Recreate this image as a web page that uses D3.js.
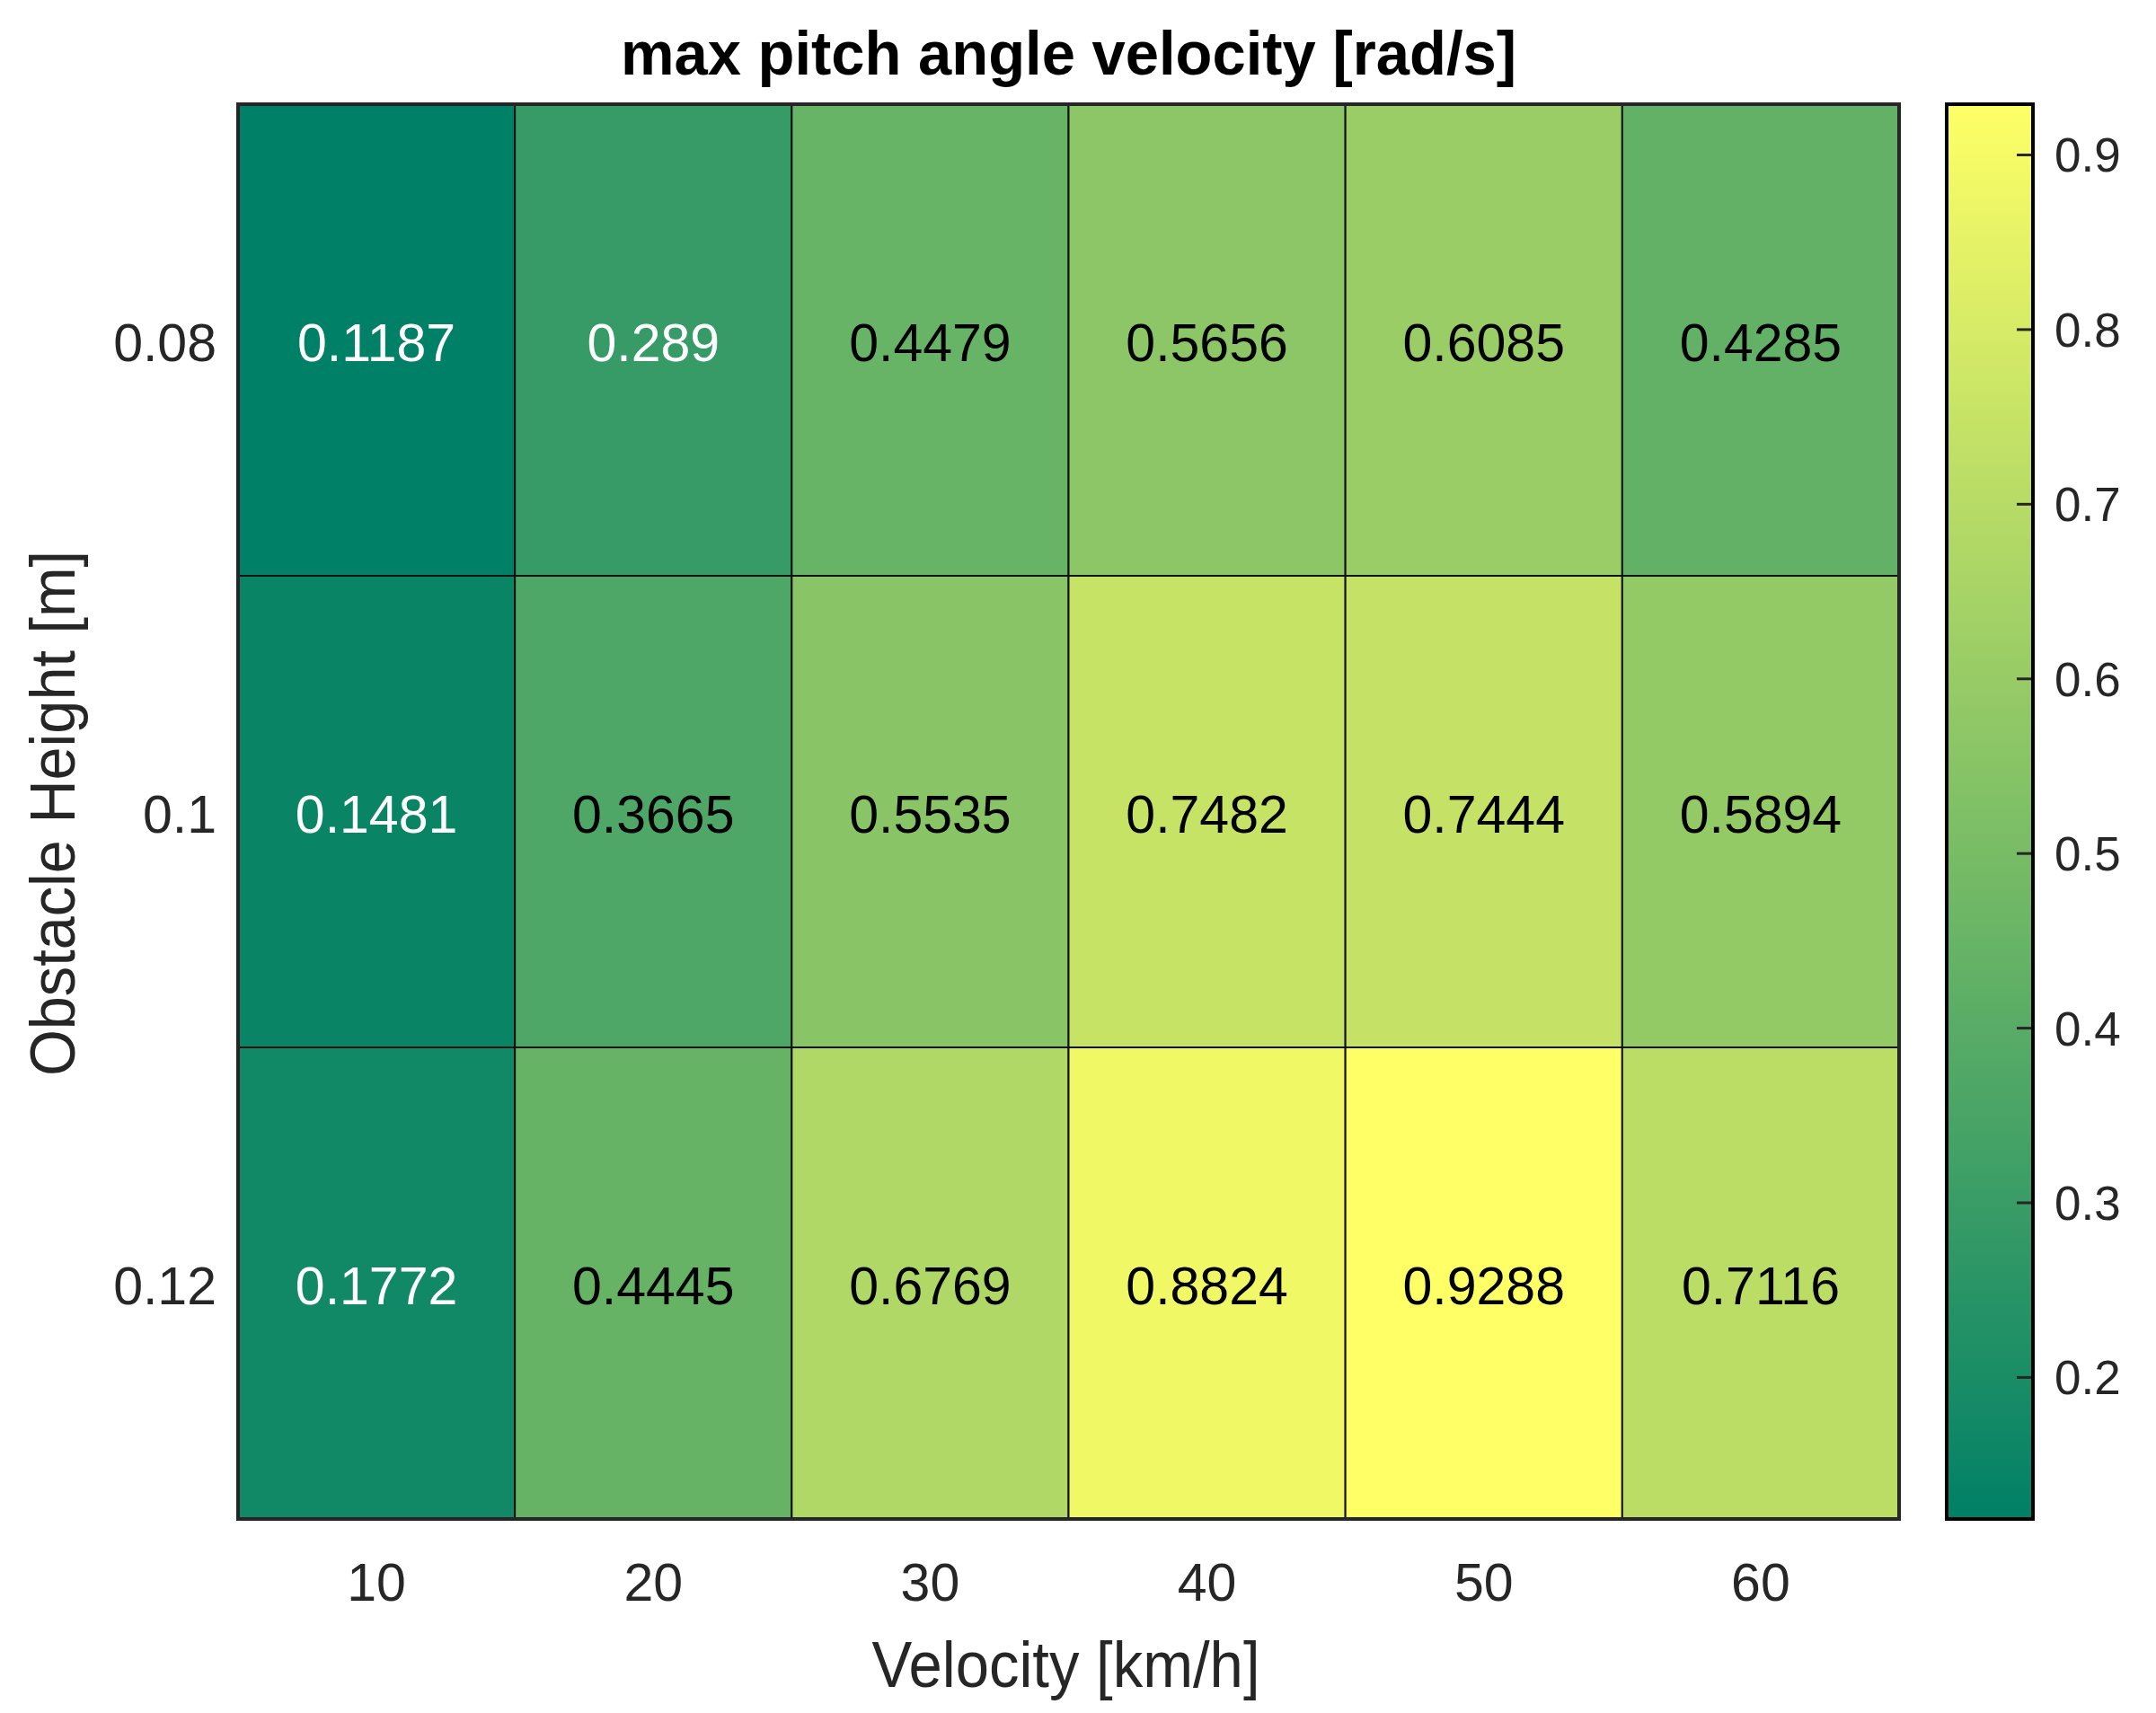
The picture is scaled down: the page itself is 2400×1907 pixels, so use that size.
<!DOCTYPE html>
<html>
<head>
<meta charset="utf-8">
<script src="https://cdn.jsdelivr.net/npm/d3@7"></script>
<style>
  html, body { margin: 0; padding: 0; background: #fff; }
  svg { display: block; }
  text { font-family: "Liberation Sans", Arial, Helvetica, sans-serif; }
</style>
</head>
<body>
<script>
// ---- data ----
const velocities = [10, 20, 30, 40, 50, 60];
const heights = [0.08, 0.1, 0.12];
const row008 = [0.1187, 0.289, 0.4479, 0.5656, 0.6085, 0.4285];
const row010 = [0.1481, 0.3665, 0.5535, 0.7482, 0.7444, 0.5894];
const row012 = [0.1772, 0.4445, 0.6769, 0.8824, 0.9288, 0.7116];
const colorbarTicks = [0.2, 0.3, 0.4, 0.5, 0.6, 0.7, 0.8, 0.9];
const titleText = "max pitch angle velocity [rad/s]";
const xLabelText = "Velocity [km/h]";
const yLabelText = "Obstacle Height [m]";

const rows = [row008, row010, row012];
const cells = [];
heights.forEach((h, i) => velocities.forEach((v, j) => cells.push({h, v, value: rows[i][j]})));

// ---- layout ----
const W = 2400, H = 1907;
const plot = {left: 265, right: 2114, top: 116, bottom: 1691};
const cb = {left: 2167, right: 2263};

const svg = d3.select("body").append("svg").attr("width", W).attr("height", H);
svg.append("rect").attr("width", W).attr("height", H).attr("fill", "#fff");

const x = d3.scaleBand().domain(velocities).range([plot.left, plot.right]).padding(0);
const y = d3.scaleBand().domain(heights).range([plot.top, plot.bottom]).padding(0);

const allVals = cells.map(d => d.value);
const vmin = d3.min(allVals), vmax = d3.max(allVals);
const color = d3.scaleLinear().domain([vmin, vmax])
  .range(["rgb(0,128,102)", "rgb(255,255,102)"]).interpolate(d3.interpolateRgb);

// cells
svg.append("g").selectAll("rect").data(cells).join("rect")
  .attr("x", d => x(d.v)).attr("y", d => y(d.h))
  .attr("width", x.bandwidth()).attr("height", y.bandwidth())
  .attr("fill", d => color(d.value))
  .attr("stroke", "#111").attr("stroke-width", 2);

// cell labels
function textColor(v) {
  const c = d3.rgb(color(v));
  const lum = (0.299 * c.r + 0.587 * c.g + 0.114 * c.b) / 255;
  return lum > 0.5 ? "#000" : "#fff";
}
const cellFs = 59;
svg.append("g").selectAll("text").data(cells).join("text")
  .attr("x", d => x(d.v) + x.bandwidth() / 2)
  .attr("y", d => y(d.h) + y.bandwidth() / 2 + 0.358 * cellFs + 2)
  .attr("text-anchor", "middle")
  .attr("font-size", cellFs)
  .attr("fill", d => textColor(d.value))
  .text(d => String(d.value));

// outer border
svg.append("rect")
  .attr("x", plot.left).attr("y", plot.top)
  .attr("width", plot.right - plot.left).attr("height", plot.bottom - plot.top)
  .attr("fill", "none").attr("stroke", "#262626").attr("stroke-width", 4);

// x axis tick labels
const tickFs = 59;
const xAxis = d3.axisBottom(x).tickSize(0).tickPadding(0);
const gx = svg.append("g").attr("transform", `translate(0,${plot.bottom})`).call(xAxis);
gx.select(".domain").remove();
gx.selectAll("text")
  .attr("font-size", tickFs).attr("fill", "#262626")
  .attr("font-family", "Liberation Sans, Arial, sans-serif")
  .attr("dy", null).attr("y", 91);

// y axis tick labels
const yAxis = d3.axisLeft(y).tickSize(0).tickPadding(0);
const gy = svg.append("g").attr("transform", `translate(${plot.left},0)`).call(yAxis);
gy.select(".domain").remove();
gy.selectAll("text")
  .attr("font-size", tickFs).attr("fill", "#262626")
  .attr("font-family", "Liberation Sans, Arial, sans-serif")
  .attr("x", -24).attr("dy", null).attr("y", 0.358 * tickFs + 2);

// title
svg.append("text")
  .attr("x", (plot.left + plot.right) / 2).attr("y", 83)
  .attr("text-anchor", "middle").attr("font-size", 68).attr("font-weight", "bold")
  .attr("fill", "#000")
  .attr("textLength", 997).attr("lengthAdjust", "spacingAndGlyphs")
  .text(titleText);

// x label
svg.append("text")
  .attr("x", (plot.left + plot.right) / 2 - 3).attr("y", 1878)
  .attr("text-anchor", "middle").attr("font-size", 72).attr("fill", "#262626")
  .attr("textLength", 432).attr("lengthAdjust", "spacingAndGlyphs")
  .text(xLabelText);

// y label
svg.append("text")
  .attr("transform", `translate(83,${(plot.top + plot.bottom) / 2 + 2}) rotate(-90)`)
  .attr("text-anchor", "middle").attr("font-size", 70).attr("fill", "#262626")
  .attr("textLength", 585).attr("lengthAdjust", "spacingAndGlyphs")
  .text(yLabelText);

// ---- colorbar ----
const cbScale = d3.scaleLinear().domain([vmin, vmax]).range([plot.bottom, plot.top]);
const defs = svg.append("defs");
const grad = defs.append("linearGradient").attr("id", "cbgrad")
  .attr("x1", 0).attr("y1", 1).attr("x2", 0).attr("y2", 0);
d3.range(0, 1.0001, 0.05).forEach(t => {
  grad.append("stop").attr("offset", t).attr("stop-color", color(vmin + t * (vmax - vmin)));
});
svg.append("rect")
  .attr("x", cb.left).attr("y", plot.top)
  .attr("width", cb.right - cb.left).attr("height", plot.bottom - plot.top)
  .attr("fill", "url(#cbgrad)");

const cbAxis = d3.axisRight(cbScale).tickValues(colorbarTicks).tickSize(-16).tickPadding(26)
  .tickFormat(d3.format(".1f"));
const gcb = svg.append("g").attr("transform", `translate(${cb.right - 2},0)`).call(cbAxis);
gcb.select(".domain").remove();
gcb.selectAll("line").attr("stroke", "#262626").attr("stroke-width", 3);
gcb.selectAll("text")
  .attr("font-size", 53).attr("fill", "#262626")
  .attr("font-family", "Liberation Sans, Arial, sans-serif")
  .attr("dy", null).attr("y", 0.358 * 53);

svg.append("rect")
  .attr("x", cb.left).attr("y", plot.top)
  .attr("width", cb.right - cb.left).attr("height", plot.bottom - plot.top)
  .attr("fill", "none").attr("stroke", "#000").attr("stroke-width", 4);
</script>
</body>
</html>
